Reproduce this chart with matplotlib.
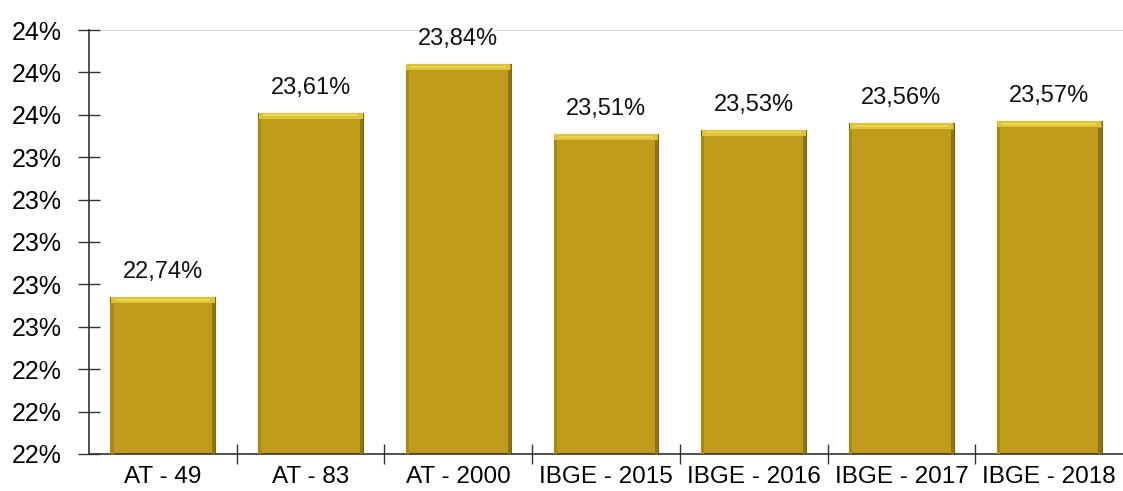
import matplotlib
matplotlib.use("Agg")
import matplotlib.pyplot as plt
from matplotlib.ticker import FuncFormatter, MultipleLocator

# Tábuas de mortalidade e percentual de cada uma
categories = ['AT - 49', 'AT - 83', 'AT - 2000', 'IBGE - 2015', 'IBGE - 2016', 'IBGE - 2017', 'IBGE - 2018']
values = [22.74, 23.61, 23.84, 23.51, 23.53, 23.56, 23.57]

plt.rcParams['font.family'] = ['Liberation Sans', 'DejaVu Sans']

fig = plt.figure(figsize=(11.23, 4.91), dpi=100)
ax = fig.add_axes([0.0793, 0.0754, 0.9207, 0.8635])

x = range(len(categories))
bar_width = 0.71
base = 22.0

# corpo da barra
bars = ax.bar(x, [v - base for v in values], bottom=base, width=bar_width,
              color='#BF9D1B', edgecolor='#7d6510', linewidth=0.8, zorder=2)

# chanfro: faixa clara no topo e laterais um pouco mais escuras
for rect, v in zip(bars, values):
    x0 = rect.get_x()
    w = rect.get_width()
    ax.bar(x0 + w / 2, 0.028, bottom=v - 0.028, width=w * 0.99,
           color='#DCC33A', linewidth=0, zorder=3)
    ax.bar(x0 + w / 2, 0.010, bottom=v - 0.018, width=w * 0.9,
           color='#EAD556', linewidth=0, zorder=3)
    ax.bar(x0 + w * 0.015, v - base - 0.03, bottom=base, width=w * 0.03,
           color='#A88914', linewidth=0, zorder=3)
    ax.bar(x0 + w * 0.985, v - base - 0.03, bottom=base, width=w * 0.03,
           color='#8F7412', linewidth=0, zorder=3)
    ax.annotate(f'{v:.2f}%'.replace('.', ','), xy=(x0 + w / 2, v),
                xytext=(0, 10), textcoords='offset points',
                ha='center', va='bottom', fontsize=17, color='#111111', zorder=4)

ax.set_xlim(-0.5, len(categories) - 0.5)
ax.set_ylim(22.0, 24.0)
ax.yaxis.set_major_locator(MultipleLocator(0.2))
ax.yaxis.set_major_formatter(FuncFormatter(lambda v, p: f'{v:.0f}%'))

ax.set_xticks(list(x))
ax.set_xticklabels(categories, fontsize=17.5)
ax.set_xticks([i + 0.5 for i in range(len(categories) - 1)], minor=True)
ax.tick_params(axis='x', which='major', length=0, pad=9)
ax.tick_params(axis='x', which='minor', direction='inout', length=14, width=1, color='#333333')
ax.tick_params(axis='y', direction='inout', length=16, width=1, color='#333333',
               labelsize=18, pad=12)

ax.axhline(24.0, color='#dddddd', linewidth=1.5, zorder=1)

for side in ['top', 'right']:
    ax.spines[side].set_visible(False)
ax.spines['left'].set_color('#333333')
ax.spines['bottom'].set_color('#333333')
ax.spines['left'].set_linewidth(1.2)
ax.spines['bottom'].set_linewidth(1.2)

plt.savefig('out.png', dpi=100)
